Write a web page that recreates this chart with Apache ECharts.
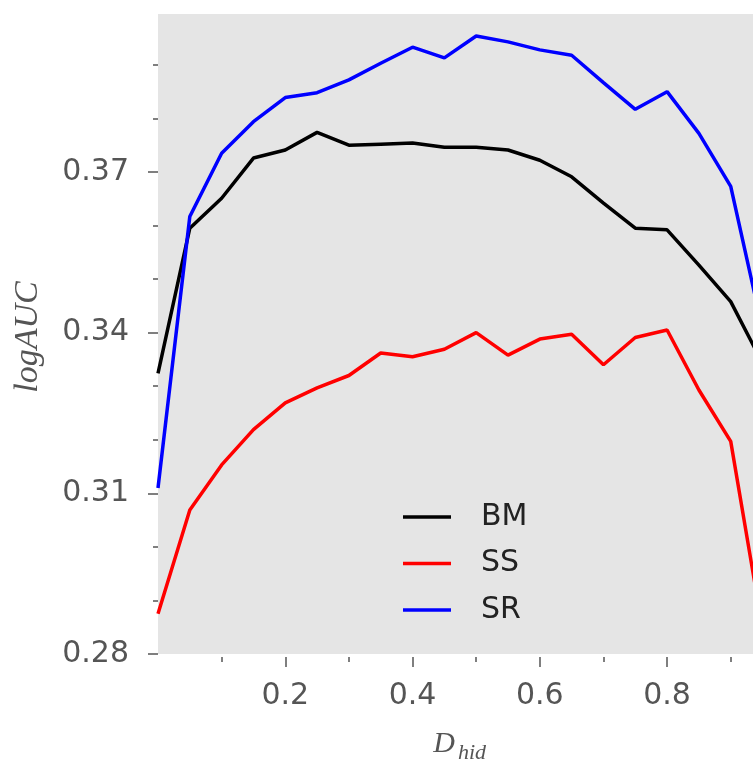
<!DOCTYPE html>
<html>
<head>
<meta charset="utf-8">
<script src="https://cdn.jsdelivr.net/npm/echarts@6/dist/echarts.min.js"></script>
<style>
  html, body { margin: 0; padding: 0; background: #ffffff; }
  #chart { width: 753px; height: 764px; }
</style>
</head>
<body>
<div id="chart"></div>
<script>
// Hidden-layer dropout rate vs. logAUC for three methods
const dHid = [0, 0.05, 0.1, 0.15, 0.2, 0.25, 0.3, 0.35, 0.4, 0.45, 0.5,
              0.55, 0.6, 0.65, 0.7, 0.75, 0.8, 0.85, 0.9, 0.95];

const BM = [0.3324, 0.3595, 0.3651, 0.3726, 0.3741, 0.3774, 0.3750, 0.3752, 0.3754, 0.3746,
            0.3746, 0.3741, 0.3722, 0.3691, 0.3642, 0.3595, 0.3592, 0.3526, 0.3458, 0.3343];
const SS = [0.2875, 0.3069, 0.3153, 0.3219, 0.3269, 0.3297, 0.3320, 0.3362, 0.3355, 0.3369,
            0.3400, 0.3358, 0.3388, 0.3397, 0.3340, 0.3391, 0.3405, 0.3293, 0.3197, 0.2847];
const SR = [0.3110, 0.3617, 0.3735, 0.3794, 0.3839, 0.3848, 0.3872, 0.3903, 0.3933, 0.3913,
            0.3954, 0.3943, 0.3928, 0.3918, 0.3867, 0.3817, 0.3850, 0.3772, 0.3673, 0.3406];

const seriesNames = ['BM', 'SS', 'SR'];
const seriesColors = ['#000000', '#ff0000', '#0000ff'];

const xMajorTicks = [0.2, 0.4, 0.6, 0.8];
const xMinorTicks = [0.1, 0.3, 0.5, 0.7, 0.9];
const yMajorTicks = [0.28, 0.31, 0.34, 0.37];
const yMinorTicks = [0.29, 0.30, 0.32, 0.33, 0.35, 0.36, 0.38, 0.39];

const X_MIN = 0, X_MAX = 0.935;
const Y_MIN = 0.28, Y_MAX = 0.3995;

const tickColor = '#555555';
const labelFont = { fontFamily: 'DejaVu Sans', fontSize: 30, color: '#555555' };
const LINE_W = 3.5;

function pairs(ys) { return dHid.map((x, i) => [x, ys[i]]); }

const chart = echarts.init(document.getElementById('chart'), null, { renderer: 'canvas' });

function xAxisDef(ticks, len, withLabels) {
  return {
    type: 'value', position: 'bottom', min: X_MIN, max: X_MAX, offset: 3,
    axisLine: { show: false },
    splitLine: { show: false },
    axisTick: { show: true, length: len, customValues: ticks,
                lineStyle: { color: tickColor, width: 1.5 } },
    axisLabel: withLabels
      ? Object.assign({ show: true, customValues: ticks, margin: 24,
                        formatter: v => String(Math.round(v * 10) / 10) }, labelFont)
      : { show: false }
  };
}

function yAxisDef(ticks, len, withLabels) {
  return {
    type: 'value', position: 'left', min: Y_MIN, max: Y_MAX, offset: 2,
    axisLine: { show: false },
    splitLine: { show: false },
    axisTick: { show: true, length: len, customValues: ticks,
                lineStyle: { color: tickColor, width: 1.5 } },
    axisLabel: withLabels
      ? Object.assign({ show: true, customValues: ticks, margin: 27,
                        formatter: v => v.toFixed(2) }, labelFont)
      : { show: false }
  };
}

const option = {
  animation: false,
  backgroundColor: '#ffffff',
  grid: {
    left: 158, top: 14, width: 595, height: 640,
    show: true, backgroundColor: '#e5e5e5', borderWidth: 0
  },
  xAxis: [xAxisDef(xMajorTicks, 10, true), xAxisDef(xMinorTicks, 5, false)],
  yAxis: [yAxisDef(yMajorTicks, 10, true), yAxisDef(yMinorTicks, 5, false)],
  legend: {
    orient: 'vertical',
    left: 403, top: 502, padding: 0,
    itemWidth: 48, itemHeight: 14, itemGap: 16.5,
    icon: 'path://M0,5.25 L48,5.25 L48,8.75 L0,8.75 Z',
    textStyle: { fontFamily: 'DejaVu Sans', fontSize: 30, color: '#222222',
                 lineHeight: 30, padding: [0, 0, 0, 25] },
    data: seriesNames
  },
  series: [BM, SS, SR].map((ys, i) => ({
    name: seriesNames[i],
    type: 'line',
    data: pairs(ys),
    xAxisIndex: 0, yAxisIndex: 0,
    showSymbol: false, symbol: 'none',
    color: seriesColors[i],
    lineStyle: { color: seriesColors[i], width: LINE_W },
    clip: true
  })),
  graphic: [
    {
      type: 'text', x: 28, y: 337, rotation: Math.PI / 2,
      style: { text: 'logAUC', fontFamily: 'Liberation Serif', fontStyle: 'italic',
               fontSize: 34, fill: '#555555', align: 'center', verticalAlign: 'middle' }
    },
    {
      type: 'text', x: 444, y: 744,
      style: { text: 'D', fontFamily: 'Liberation Serif', fontStyle: 'italic',
               fontSize: 30, fill: '#555555', align: 'center', verticalAlign: 'middle' }
    },
    {
      type: 'text', x: 458, y: 753,
      style: { text: 'hid', fontFamily: 'Liberation Serif', fontStyle: 'italic',
               fontSize: 22, fill: '#555555', align: 'left', verticalAlign: 'middle' }
    }
  ]
};

chart.setOption(option);
</script>
</body>
</html>
